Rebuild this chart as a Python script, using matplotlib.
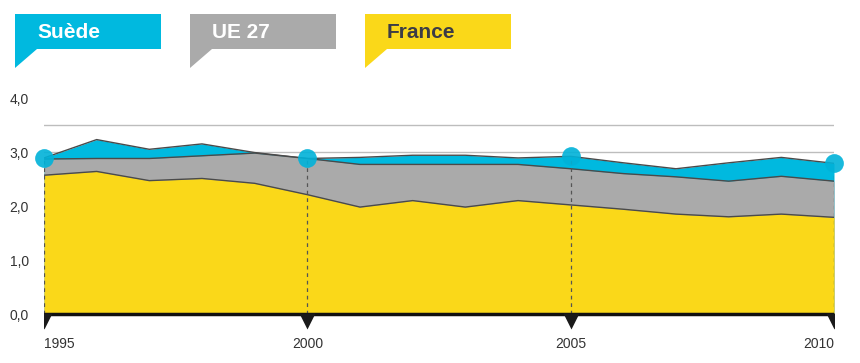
import matplotlib.pyplot as plt
from matplotlib.patches import Polygon

years = list(range(1995, 2011))
suede = [2.89, 3.23, 3.05, 3.15, 2.99, 2.88, 2.90, 2.94, 2.94, 2.89, 2.92, 2.80, 2.69, 2.80, 2.90, 2.79]
ue27 = [2.87, 2.88, 2.88, 2.93, 2.98, 2.88, 2.77, 2.77, 2.77, 2.77, 2.69, 2.60, 2.54, 2.46, 2.55, 2.46]
france = [2.57, 2.64, 2.47, 2.51, 2.42, 2.21, 1.98, 2.10, 1.98, 2.10, 2.02, 1.94, 1.85, 1.80, 1.85, 1.79]
tick_years = [1995, 2000, 2005, 2010]
y_ticks = [0, 1, 2, 3, 4]
grid_levels = [0.5, 1.0, 1.5, 2.0, 2.5, 3.0, 3.5]

BLUE = "#00b9df"
GREY = "#aaaaaa"
YELLOW = "#fad819"
LINE = "#4a4a4a"
TEXT = "#333333"

plt.rcParams['font.family'] = ['Liberation Sans', 'DejaVu Sans']

W, H = 860, 363
fig = plt.figure(figsize=(W / 100, H / 100), dpi=100)

# axes: x 1995->44px, 2010->834px ; y 0->314px, 4.0->98px
ymin = -0.3
px_per_unit = 54.0
bottom_px = 314 + (-ymin) * px_per_unit
top_px = 98
ax = fig.add_axes([44 / W, 1 - bottom_px / H, 790 / W, (bottom_px - top_px) / H])
ax.set_xlim(1995, 2010)
ax.set_ylim(ymin, 4.0)
for s in ax.spines.values():
    s.set_visible(False)

for g in grid_levels:
    ax.axhline(g, color="#bdbdbd", lw=1, zorder=0)

series = [(suede, BLUE), (ue27, GREY), (france, YELLOW)]
for i, (vals, col) in enumerate(series):
    ax.fill_between(years, 0, vals, color=col, lw=0, zorder=1 + i)
    ax.plot(years, vals, color=LINE, lw=1, zorder=1 + i)

# dashed markers at milestone years
for y in tick_years:
    v = suede[years.index(y)]
    ax.plot([y, y], [0, v], color="#555555", lw=0.9, ls=(0, (3, 3)), zorder=6)
ax.plot(tick_years, [suede[years.index(y)] for y in tick_years], "o",
        ms=13.5, color="#00b2d9", alpha=0.9, mec="none", zorder=7, clip_on=False)

ax.axhline(0, color="#111111", lw=2.5, zorder=8)
ax.plot(tick_years, [-0.13] * len(tick_years), "v", ms=11.5, color="#1a1a1a",
        mec="none", zorder=8, clip_on=True)

ax.set_yticks(y_ticks)
ax.set_yticklabels([f"{t:.1f}".replace(".", ",") for t in y_ticks])
ax.set_xticks(tick_years)
ax.set_xticklabels([str(y) for y in tick_years])
ax.tick_params(length=0, labelsize=10, labelcolor=TEXT)
ax.tick_params(axis="y", pad=11)
ax.tick_params(axis="x", pad=5)
labels = ax.get_xticklabels()
labels[0].set_ha("left")
labels[-1].set_ha("right")


def px(x, y):
    return (x / W, 1 - y / H)


legend = [("Suède", BLUE, "white", 15), ("UE 27", GREY, "white", 190), ("France", YELLOW, "#3c3c46", 365)]
for name, col, tcol, x0 in legend:
    pts = [px(x0, 14), px(x0 + 146, 14), px(x0 + 146, 49), px(x0 + 22, 49), px(x0, 68)]
    fig.patches.append(Polygon(pts, closed=True, color=col, lw=0, transform=fig.transFigure))
    fig.text(*px(x0 + 22, 32), name, color=tcol, fontsize=15, fontweight="bold",
             ha="left", va="center")

fig.savefig("out.png", dpi=100)
